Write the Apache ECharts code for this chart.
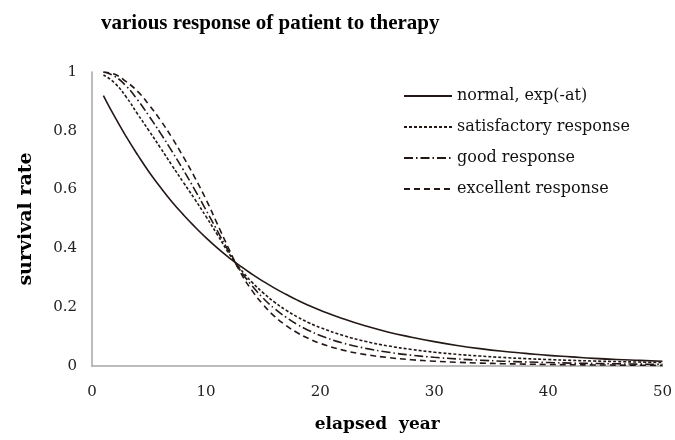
<!DOCTYPE html>
<html>
<head>
<meta charset="utf-8">
<script src="https://cdn.jsdelivr.net/npm/echarts@6/dist/echarts.min.js"></script>
<style>html,body{margin:0;padding:0;background:#fff}#c{width:675px;height:440px}</style>
</head>
<body>
<div id="c"></div>
<script>
var years = [1,2,3,4,5,6,7,8,9,10,11,12,13,14,15,16,17,18,19,20,22,24,26,28,30,32,34,36,38,40,42,44,46,48,50];
var normal = [0.920,0.847,0.780,0.718,0.660,0.608,0.559,0.515,0.474,0.436,0.401,0.369,0.340,0.313,0.288,0.265,0.244,0.224,0.206,0.190,0.161,0.136,0.115,0.098,0.083,0.070,0.059,0.050,0.043,0.036,0.031,0.026,0.022,0.019,0.016];
var satisfactory = [0.99,0.962,0.915,0.857,0.800,0.742,0.683,0.625,0.568,0.508,0.446,0.383,0.330,0.286,0.249,0.217,0.190,0.167,0.147,0.131,0.104,0.0835,0.068,0.0563,0.047,0.0397,0.0338,0.029,0.0251,0.0219,0.0192,0.0169,0.015,0.0134,0.012];
var good = [1.0,0.985,0.952,0.905,0.850,0.792,0.731,0.667,0.600,0.530,0.459,0.389,0.325,0.274,0.231,0.195,0.166,0.141,0.121,0.104,0.078,0.060,0.0466,0.0369,0.0296,0.024,0.0197,0.0164,0.0138,0.0117,0.0099,0.0086,0.0074,0.0064,0.0056];
var excellent = [1.0,0.992,0.967,0.934,0.888,0.836,0.777,0.712,0.642,0.566,0.482,0.398,0.319,0.258,0.209,0.169,0.138,0.113,0.093,0.077,0.054,0.0388,0.0285,0.0213,0.0163,0.0126,0.0099,0.0079,0.0064,0.0052,0.0043,0.0036,0.003,0.0025,0.0021];
var seriesNames = ['normal, exp(-at)','satisfactory response','good response','excellent response'];
var xTicks = [0,10,20,30,40,50];
var yTicks = [0,0.2,0.4,0.6,0.8,1];

function pairs(ys){ return years.map(function(x,i){ return [x, ys[i]]; }); }
var lineColor = '#231815';
var serifD = '"DejaVu Serif","Liberation Serif",serif';
var serifL = '"Liberation Serif","DejaVu Serif",serif';
var dashTypes = ['solid',[3,2],[9,3,1.5,3],[6,4]];
var dataSets = [normal, satisfactory, good, excellent];
var series = dataSets.map(function(d,i){
  return {
    name: seriesNames[i],
    type: 'line',
    data: pairs(d),
    smooth: true,
    symbol: 'none',
    lineStyle: {color: lineColor, width: 1.6, type: dashTypes[i]},
    itemStyle: {color: lineColor},
    z: 4 - i
  };
});

var chart = echarts.init(document.getElementById('c'), null, {renderer:'canvas'});
chart.setOption({
  animation: false,
  backgroundColor: '#fff',
  title: {
    text: 'various response of patient to therapy',
    left: 96, top: 8,
    textStyle: {fontFamily: serifL, fontWeight: 'bold', fontSize: 21, color: '#000'}
  },
  legend: {
    orient: 'vertical',
    left: 398, top: 83,
    itemWidth: 48, itemHeight: 14, itemGap: 15,
    data: seriesNames,
    itemStyle: {opacity: 0},
    textStyle: {fontFamily: serifD, fontSize: 16, color: '#111', padding:[0,0,0,0]}
  },
  grid: {left: 92, right: 12, top: 72, bottom: 74, containLabel: false},
  xAxis: {
    type: 'value', min: xTicks[0], max: xTicks[xTicks.length-1], interval: 10,
    name: 'elapsed  year', nameLocation: 'middle', nameGap: 50,
    nameTextStyle: {fontFamily: serifD, fontWeight: 'bold', fontSize: 17, color: '#000'},
    axisLine: {show: true, lineStyle: {color: '#a6a6a6', width: 1.5}},
    axisTick: {show: false},
    splitLine: {show: false},
    axisLabel: {fontFamily: serifD, fontSize: 15, color: '#222', margin: 19}
  },
  yAxis: {
    type: 'value', min: yTicks[0], max: yTicks[yTicks.length-1], interval: 0.2,
    name: 'survival rate', nameLocation: 'middle', nameGap: 56, nameRotate: 90,
    nameTextStyle: {fontFamily: serifD, fontWeight: 'bold', fontSize: 19, color: '#000'},
    axisLine: {show: true, lineStyle: {color: '#a6a6a6', width: 1.5}},
    axisTick: {show: false},
    splitLine: {show: false},
    axisLabel: {fontFamily: serifD, fontSize: 15, color: '#222', margin: 15}
  },
  series: series
});
</script>
</body>
</html>
